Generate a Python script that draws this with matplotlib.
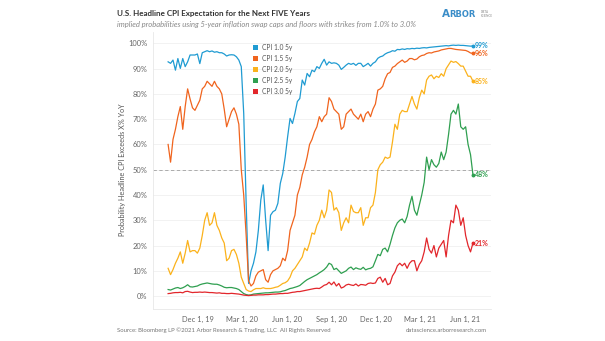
import pandas as pd
import matplotlib
matplotlib.use('Agg')
import matplotlib.pyplot as plt
from matplotlib.patches import Patch
from matplotlib.ticker import FuncFormatter, FixedLocator

plt.rcParams['font.family'] = ['Lato', 'DejaVu Sans']

# observations every 5 days, Oct 2019 - Jun 2021
dates = pd.date_range('2019-10-01', periods=126, freq='5D')

cpi_10 = [92.7, 92.1, 93.4, 89.4, 94.0, 90.1, 94.0, 90.8, 92.7, 95.4,
          95.4, 95.4, 95.8, 92.0, 96.3, 96.7, 97.1, 96.7, 97.0, 96.5,
          96.7, 96.3, 96.3, 95.8, 95.0, 95.4, 95.5, 95.4, 94.7, 93.4,
          90.8, 72.3, 36.7, 5.0, 10.0, 13.0, 17.5, 26.0, 38.0, 44.0,
          30.0, 18.0, 32.0, 33.4, 34.0, 36.7, 44.6, 48.5, 55.0, 63.0,
          70.3, 68.3, 72.3, 77.0, 78.2, 85.5, 83.5, 88.1, 86.8, 89.4,
          88.8, 90.8, 90.1, 92.1, 93.7, 91.4, 92.7, 92.1, 92.3, 92.1,
          91.4, 89.7, 90.5, 91.4, 92.1, 91.7, 92.1, 91.3, 92.1, 92.1,
          90.8, 91.4, 92.1, 91.0, 92.1, 92.7, 94.1, 94.7, 95.0, 95.8,
          96.3, 96.6, 97.1, 96.9, 97.6, 97.5, 97.8, 97.6, 97.9, 97.8,
          98.0, 97.9, 98.1, 98.0, 98.2, 98.3, 98.2, 98.4, 98.5, 98.6,
          98.7, 98.8, 98.9, 99.0, 99.1, 99.0, 99.2, 99.3, 99.2, 99.3,
          99.2, 99.2, 99.1, 99.0, 98.9, 99.0]

cpi_15 = [60.0, 53.0, 62.0, 66.0, 71.0, 75.0, 66.0, 75.0, 82.0, 78.0,
          74.5, 73.5, 75.5, 77.5, 82.0, 83.0, 85.0, 84.0, 83.0, 85.0,
          83.0, 82.0, 80.0, 74.0, 67.0, 70.0, 73.0, 74.5, 72.0, 68.0,
          50.0, 40.0, 24.0, 6.0, 4.0, 5.0, 8.0, 9.5, 10.0, 10.5,
          6.5, 5.5, 8.5, 10.0, 10.5, 11.0, 12.0, 15.0, 14.0, 18.0,
          26.0, 29.0, 32.0, 40.0, 43.0, 48.0, 51.0, 55.0, 60.0, 62.0,
          65.0, 67.0, 71.0, 69.0, 71.0, 72.0, 78.5, 77.0, 74.0, 73.0,
          72.0, 66.0, 67.0, 72.0, 73.0, 74.0, 72.0, 71.0, 70.0, 72.0,
          69.0, 72.0, 73.0, 71.0, 74.0, 76.0, 81.5, 82.0, 83.0, 86.0,
          88.0, 88.5, 90.5, 91.0, 92.0, 92.7, 93.4, 92.5, 93.0, 94.0,
          94.0, 93.5, 93.8, 94.7, 95.2, 95.4, 96.0, 96.3, 96.2, 96.6,
          96.8, 97.0, 97.4, 97.6, 97.8, 98.0, 98.0, 97.8, 97.6, 97.5,
          97.4, 97.3, 97.2, 96.8, 96.2, 96.0]

cpi_20 = [11.0, 8.5, 10.5, 13.0, 15.0, 17.5, 13.0, 17.0, 22.0, 17.5,
          18.0, 18.0, 17.0, 19.0, 24.0, 30.0, 33.0, 28.0, 29.0, 33.0,
          28.0, 26.0, 23.0, 21.0, 14.0, 15.0, 18.0, 18.5, 16.5, 13.0,
          7.5, 5.0, 2.6, 2.0, 1.8, 2.5, 3.0, 3.0, 3.0, 3.3,
          3.0, 3.0, 3.0, 3.2, 3.5, 3.7, 4.3, 5.0, 5.3, 6.0,
          7.5, 10.0, 11.0, 12.5, 14.0, 15.5, 19.0, 18.0, 21.0, 25.0,
          24.5, 28.0, 30.0, 34.0, 31.0, 34.0, 42.0, 41.0, 34.0, 35.0,
          33.0, 26.0, 29.0, 31.0, 29.0, 36.0, 33.5, 33.0, 33.0, 35.0,
          28.0, 31.0, 31.0, 35.0, 36.0, 41.0, 50.0, 52.0, 53.0, 55.0,
          54.5, 55.0, 61.0, 68.0, 66.0, 72.0, 73.5, 73.0, 73.0, 76.0,
          79.0, 76.0, 74.0, 78.5, 81.5, 80.0, 85.5, 87.0, 87.5, 86.0,
          87.0, 86.5, 88.0, 87.0, 90.0, 91.5, 93.0, 92.5, 92.8, 92.0,
          91.0, 91.0, 89.0, 87.0, 87.0, 85.0]

cpi_25 = [2.6, 2.4, 2.8, 3.2, 3.4, 3.0, 3.3, 3.8, 4.5, 3.7,
          3.6, 3.8, 4.0, 4.5, 4.8, 5.0, 5.2, 5.0, 4.8, 4.7,
          4.7, 4.4, 4.0, 3.5, 3.3, 3.4, 3.4, 3.2, 3.0, 2.6,
          1.8, 1.0, 0.6, 0.4, 0.5, 0.8, 0.9, 1.0, 1.1, 1.2,
          1.3, 1.3, 1.4, 1.5, 1.6, 1.6, 1.7, 2.0, 2.2, 2.6,
          3.0, 3.2, 3.5, 3.8, 4.2, 5.0, 5.8, 6.5, 7.0, 7.5,
          8.0, 8.5, 9.2, 9.8, 10.5, 11.5, 13.0, 12.5, 10.5, 11.0,
          10.0, 9.0, 9.5, 10.0, 11.0, 11.5, 10.5, 11.2, 10.8, 10.6,
          11.4, 10.4, 10.8, 11.0, 11.6, 14.0, 16.5, 16.0, 18.5, 19.0,
          17.5, 20.5, 24.0, 27.0, 29.0, 30.0, 30.5, 29.0, 31.5, 36.0,
          39.5, 34.0, 32.0, 36.0, 40.0, 45.0, 55.0, 50.0, 54.0, 52.0,
          51.0, 52.5, 57.0, 54.0, 57.0, 64.0, 72.0, 73.5, 72.0, 76.0,
          67.0, 66.0, 67.0, 60.0, 56.0, 48.0]

cpi_30 = [1.0, 1.1, 1.3, 1.4, 1.4, 1.5, 1.3, 1.8, 1.9, 1.6,
          1.4, 1.5, 1.5, 1.6, 1.5, 1.6, 1.5, 1.4, 1.4, 1.3,
          1.2, 1.3, 1.1, 1.1, 1.0, 1.0, 1.1, 1.0, 0.9, 0.8,
          0.6, 0.4, 0.3, 0.2, 0.3, 0.4, 0.4, 0.5, 0.5, 0.5,
          0.6, 0.6, 0.7, 0.8, 0.8, 0.9, 1.0, 1.0, 1.1, 1.1,
          1.3, 1.5, 1.6, 1.8, 1.8, 2.0, 2.2, 2.4, 2.6, 2.8,
          3.0, 3.1, 3.0, 3.6, 4.3, 4.6, 5.5, 4.5, 5.6, 4.0,
          5.0, 3.2, 3.6, 4.4, 4.7, 4.4, 4.2, 4.8, 4.0, 4.6,
          4.5, 4.3, 5.0, 5.2, 5.0, 5.2, 7.0, 7.5, 5.5, 7.0,
          4.5, 5.0, 8.0, 9.5, 12.0, 13.0, 12.0, 13.0, 11.0, 13.0,
          14.0, 14.0, 10.0, 12.5, 14.0, 17.5, 23.0, 18.5, 17.0, 20.0,
          15.5, 19.0, 20.5, 22.0, 15.5, 24.0, 30.0, 29.0, 36.0, 34.0,
          28.0, 31.0, 24.0, 20.0, 17.5, 21.0]

series = [cpi_10, cpi_15, cpi_20, cpi_25, cpi_30]
labels = ['CPI 1.0 5y', 'CPI 1.5 5y', 'CPI 2.0 5y', 'CPI 2.5 5y', 'CPI 3.0 5y']
colors = ['#1f9bd2', '#f0641e', '#fbb21c', '#2f9f50', '#e2262b']

tick_dates = pd.to_datetime(['2019-12-01', '2020-03-01', '2020-06-01', '2020-09-01',
                             '2020-12-01', '2021-03-01', '2021-06-01'])
y_ticks = list(range(0, 101, 10))

W, H = 605, 341
fig = plt.figure(figsize=(W / 100, H / 100), dpi=100)
ax = fig.add_axes([153 / W, 1 - 309 / H, (491 - 153) / W, (309 - 32) / H])

for vals, c, lab in zip(series, colors, labels):
    ax.plot(dates, vals, color=c, lw=0.9, label=lab, zorder=3)
    ax.plot(dates[-1], vals[-1], 'o', color=c, ms=1.8, zorder=4)
    ax.annotate(f'{vals[-1]:.0f}%', xy=(dates[-1], vals[-1]), xytext=(1.2, 0),
                textcoords='offset points', ha='left', va='center',
                color=c, fontsize=5, fontweight='bold')

ax.axhline(50, color='#a0a0a0', lw=0.6, ls=(0, (4, 3)), zorder=2)

ax.set_ylim(-5.1, 104.5)
ax.set_xlim(pd.Timestamp('2019-08-31'), pd.Timestamp('2021-07-24'))
ax.yaxis.set_major_locator(FixedLocator(y_ticks))
ax.yaxis.set_major_formatter(FuncFormatter(lambda v, p: f'{v:.0f}%'))
ax.set_xticks(tick_dates)
ax.set_xticklabels([f'{d:%b} {d.day}, {d:%y}' for d in tick_dates])
ax.grid(axis='y', color='#f0f0f0', lw=0.6, zorder=1)
ax.tick_params(length=0, labelsize=5.4, colors='#666666')
ax.tick_params(axis='y', pad=4)
ax.tick_params(axis='x', pad=5)
for side in ['top', 'right']:
    ax.spines[side].set_visible(False)
for side in ['left', 'bottom']:
    ax.spines[side].set_color('#e8e8e8')
    ax.spines[side].set_linewidth(0.6)

handles = [Patch(facecolor=c, edgecolor='none') for c in colors]
ax.legend(handles, labels, loc='upper left', bbox_to_anchor=(253 / W, 1 - 44 / H),
          bbox_transform=fig.transFigure, frameon=False, fontsize=4.8,
          handlelength=0.8, handleheight=0.8, handletextpad=0.5,
          labelspacing=0.6, borderaxespad=0, borderpad=0, labelcolor='#555555')

fig.text(123 / W, 1 - 170 / H, 'Probability Headline CPI Exceeds X% YoY', rotation=90,
         ha='center', va='center', fontsize=5.2, color='#555555')

fig.text(117 / W, 1 - 13.5 / H, 'U.S. Headline CPI Expectation for the Next FIVE Years',
         ha='left', va='center', fontsize=5.8, fontweight='bold', color='#333333')
fig.text(117 / W, 1 - 25 / H,
         'implied probabilities using 5-year inflation swap caps and floors with strikes from 1.0% to 3.0%',
         ha='left', va='center', fontsize=5.5, style='italic', color='#888888')

# logo
fig.text(442 / W, 1 - 14 / H, 'A', ha='left', va='center', fontsize=7.5,
         fontweight='bold', color='#3b8dc8', family='DejaVu Sans')
fig.text(449 / W, 1 - 14.6 / H, 'RBOR', ha='left', va='center', fontsize=6,
         fontweight='bold', color='#3b8dc8', family='DejaVu Sans')
fig.text(481 / W, 1 - 14 / H, 'DATA\nSCIENCE', ha='left', va='center', fontsize=2.2,
         color='#888888', linespacing=1.0)

fig.text(117 / W, 1 - 330 / H,
         'Source: Bloomberg LP \u00a92021 Arbor Research & Trading, LLC  All Rights Reserved',
         ha='left', va='center', fontsize=4.3, color='#777777')
fig.text(487 / W, 1 - 330 / H, 'datascience.arborresearch.com',
         ha='right', va='center', fontsize=4.3, color='#777777')

fig.savefig('out.png', dpi=100)
